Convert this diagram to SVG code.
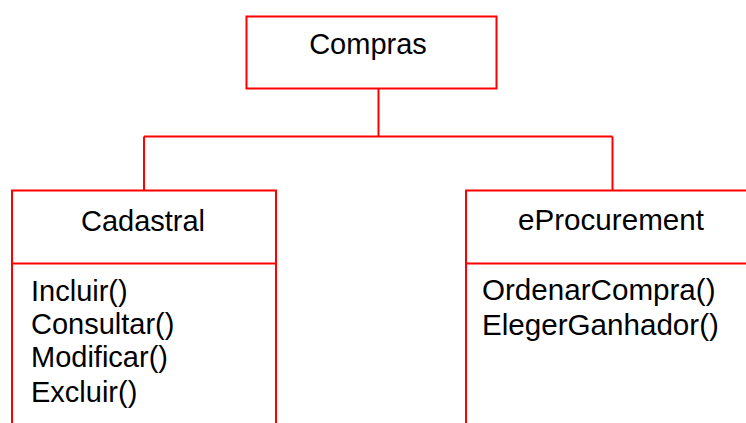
<svg xmlns="http://www.w3.org/2000/svg" width="746" height="423" viewBox="0 0 746 423">
<style>
.box{fill:#ffffff;stroke:#ff0000;stroke-width:2}
.ln{fill:none;stroke:#ff0000;stroke-width:2}
.t{font-family:"Liberation Sans",Arial,sans-serif;font-size:29px;fill:#000000}
.r{font-size:29.6px}
.c{text-anchor:middle}
</style>
<rect x="0" y="0" width="746" height="423" fill="#ffffff"/>
<g id="connectors">
<path class="ln" d="M378.5,89 V136.5 M144,136.5 H612.5 M144,136.5 V190.5 M612.5,136.5 V190.5"/>
</g>
<g id="compras">
<rect class="box" x="246.5" y="16.5" width="250" height="72"/>
<text class="t c" x="368" y="54">Compras</text>
</g>
<g id="cadastral">
<rect class="box" x="12" y="190.5" width="264" height="260"/>
<line class="ln" x1="12" y1="263.5" x2="276" y2="263.5"/>
<text class="t c" x="143" y="230.5">Cadastral</text>
<text class="t" x="31" y="300.5">Incluir()</text>
<text class="t" x="31" y="333.5">Consultar()</text>
<text class="t" x="31" y="366.5">Modificar()</text>
<text class="t" x="31" y="401.5">Excluir()</text>
</g>
<g id="eprocurement">
<rect class="box" x="466" y="190.5" width="300" height="260"/>
<line class="ln" x1="466" y1="263.5" x2="766" y2="263.5"/>
<text class="t r c" x="611" y="230">eProcurement</text>
<text class="t r" x="482" y="300">OrdenarCompra()</text>
<text class="t r" x="482" y="335">ElegerGanhador()</text>
</g>
</svg>
